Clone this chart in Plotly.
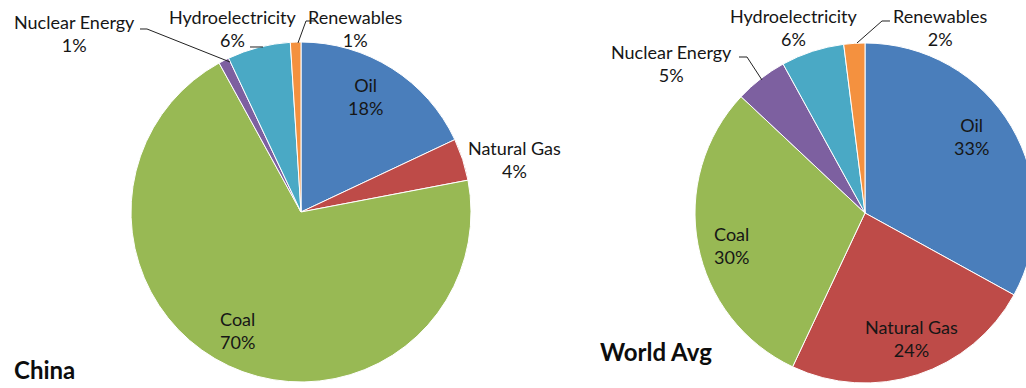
import plotly.graph_objects as go

# Primary energy consumption by source (% share)
sources = ["Oil", "Natural Gas", "Coal", "Nuclear Energy", "Hydroelectricity", "Renewables"]
china_share = [18, 4, 70, 1, 6, 1]
world_share = [33, 24, 30, 5, 6, 2]
panel_titles = ["China", "World Avg"]

slice_colors = ["#4a7ebb", "#be4b48", "#98b954", "#7d60a0", "#4aa9c5", "#f4913f"]

W, H = 1036, 388
FONT = "Lato"
TEXT_COLOR = "#161616"


def px(x):
    return x / W


def py(y):
    return 1 - y / H


fig = go.Figure()


def add_pie(values, cx, cy, r, name):
    fig.add_trace(go.Pie(
        labels=sources, values=values, name=name,
        sort=False, direction="clockwise", rotation=0,
        marker=dict(colors=slice_colors, line=dict(color="white", width=1)),
        textinfo="none", showlegend=False,
        domain=dict(x=[px(cx - r), px(cx + r)], y=[py(cy + r), py(cy - r)]),
    ))


add_pie(china_share, 301, 212, 170, panel_titles[0])
add_pie(world_share, 865, 213, 170, panel_titles[1])

# label centres (pixels) for each slice
china_label_xy = {
    "Oil": (365, 96), "Natural Gas": (514, 159), "Coal": (237, 330),
    "Nuclear Energy": (74, 33), "Hydroelectricity": (233, 29), "Renewables": (355, 29),
}
world_label_xy = {
    "Oil": (971, 136), "Natural Gas": (911, 338), "Coal": (731, 245),
    "Nuclear Energy": (671, 64), "Hydroelectricity": (794, 28), "Renewables": (940, 28),
}

annotations = []
for values, pos in ((china_share, china_label_xy), (world_share, world_label_xy)):
    for src, val in zip(sources, values):
        x, y = pos[src]
        annotations.append(dict(
            text=f"{src}<br>{val}%", x=px(x), y=py(y), xref="paper", yref="paper",
            xanchor="center", yanchor="middle", showarrow=False, align="center",
            font=dict(family=FONT, size=18, color=TEXT_COLOR),
        ))

# panel titles
for title, (x, y) in zip(panel_titles, [(12, 369), (598, 351)]):
    annotations.append(dict(
        text=f"<b>{title}</b>", x=px(x), y=py(y), xref="paper", yref="paper",
        xanchor="left", yanchor="middle", showarrow=False,
        font=dict(family=FONT, size=24, color="#0d0d0d"),
    ))

# leader lines from outside labels to their slices
leaders = [
    [(140, 29), (147, 29), (230, 62)],
    [(250, 47), (263, 47)],
    [(316, 21), (306, 21), (298, 43)],
    [(739, 57), (747, 57), (762, 80)],
    [(890, 21), (882, 21), (857, 43)],
]
shapes = []
for pts in leaders:
    path = "M " + " L ".join(f"{px(x):.5f},{py(y):.5f}" for x, y in pts)
    shapes.append(dict(type="path", path=path, xref="paper", yref="paper",
                       line=dict(color="#222222", width=1)))

fig.update_layout(
    width=W, height=H,
    margin=dict(l=0, r=0, t=0, b=0),
    paper_bgcolor="white", plot_bgcolor="white",
    showlegend=False,
    annotations=annotations, shapes=shapes,
)

fig.write_html(
    "out.html",
    post_script="document.body.style.margin='0';"
                "document.body.style.overflow='hidden';"
                "document.documentElement.style.overflow='hidden';",
)
